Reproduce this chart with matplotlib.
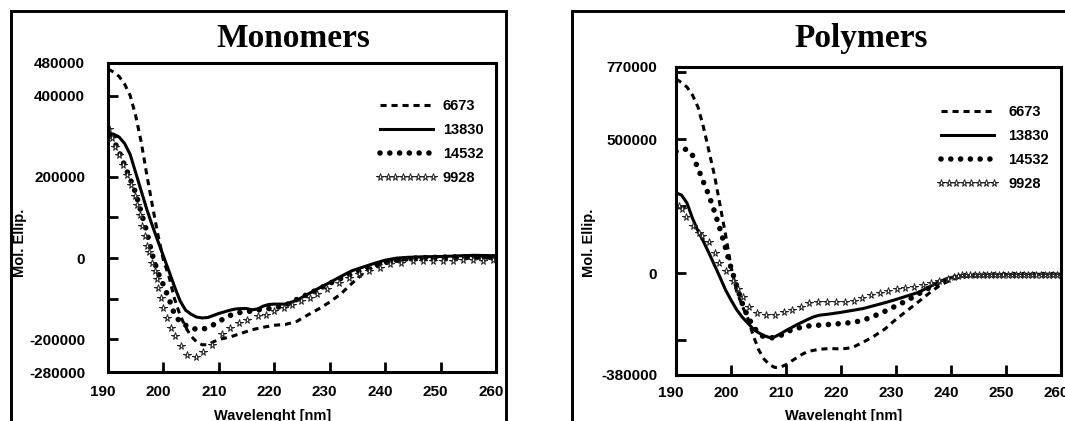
import matplotlib
matplotlib.use('Agg')
from matplotlib import pyplot as plt
from matplotlib.patches import Rectangle
from matplotlib.transforms import ScaledTranslation

W, H = 1065, 421

# ---- Monomers ----
m6673_wl = [190, 191, 192, 193, 194, 195, 196, 197, 198, 199, 200, 201, 202, 203, 204, 205, 206, 207, 208, 209, 210,
            212, 214, 216, 218, 220, 222, 224, 226, 228, 230, 232, 234, 236, 238, 240, 242, 245, 250, 255, 260]
m6673 = [465000, 458000, 447000, 428000, 400000, 350000, 285000, 205000, 130000, 58000, -5000, -45000, -100000,
         -140000, -170000, -192000, -206000, -213000, -213000, -206000, -200000,
         -194000, -185000, -176000, -170000, -165000, -163000, -156000, -140000, -125000, -108000, -88000, -62000,
         -38000, -20000, -11000, -6000, -3000, -1000, 0, 0]

m13830_wl = [190, 191, 192, 193, 194, 195, 196, 197, 198, 199, 200, 201, 202, 203, 204, 205, 206, 207, 208, 209, 210,
             211, 212, 213, 214, 215, 216, 217, 218, 219, 220,
             222, 224, 226, 228, 230, 232, 234, 236, 238, 240, 242, 244, 247, 250, 253, 256, 260]
m13830 = [307000, 305000, 298000, 282000, 255000, 210000, 165000, 120000, 80000, 42000, 5000, -32000, -70000,
          -105000, -128000, -138000, -145000, -147000, -146000, -141000, -136000,
          -132000, -128000, -125000, -124000, -124000, -127000, -125000, -118000, -114000, -113000,
          -113000, -104000, -89000, -74000, -60000, -45000, -31000, -22000, -13000, -5000, 0,
          2000, 3500, 4000, 5500, 7000, 6000]

m14532_wl = [190, 191, 192, 193, 194, 195, 196, 197, 198, 199, 200, 201, 202, 203, 204, 205, 206, 207, 208, 209, 210,
             211, 212, 213, 214, 216, 218, 220, 222, 224, 226, 228, 230, 232, 234, 236, 238, 240, 242,
             245, 250, 255, 260]
m14532 = [322000, 290000, 262000, 228000, 195000, 160000, 112000, 65000, 8000, -35000, -66000, -100000, -138000,
          -157000, -165000, -172000, -175000, -175000, -171000, -164000, -156000, -148000, -141000, -136000, -133000,
          -130000, -125000, -123000, -116000, -102000, -89000, -76000, -62000, -50000, -39000, -28000, -18000,
          -11000, -5000, 0, 2500, 3500, 3000]

m9928_wl = [190.2, 190.7, 191.3, 191.9, 192.7, 193.5, 194.1, 194.9, 195.3, 195.7, 196.2, 196.7, 197.1, 197.4, 197.9,
            198.4, 198.8, 199.1, 199.6, 200.0, 200.6, 201.4, 202.0, 203.1, 204.2, 205.9, 207.2, 208.7, 210.6, 212.1,
            213.6, 215.1, 217.0, 218.5, 220.0, 221.7, 223.2, 224.9, 226.4, 227.7, 229.5, 231.6, 233.5, 235.3, 237.1,
            239.0, 240.8, 242.9, 245.0, 246.9, 248.7, 250.5, 252.2, 254.0, 255.8, 257.6, 259.5]
m9928 = [318000, 295000, 274000, 253000, 229000, 204000, 179000, 154000, 130000, 105000, 80000, 55000, 31000, 14000,
         -11000, -31000, -52000, -73000, -97000, -122000, -147000, -172000, -192000, -217000, -238000, -242000,
         -230000, -213000, -186000, -172000, -159000, -151000, -143000, -139000, -130000, -122000, -116000, -106000,
         -97000, -89000, -77000, -60000, -48000, -40000, -31000, -23000, -15000, -11000, -8000, -7000, -6500, -6000,
         -5800, -5000, -5500, -5800, -4100]

# ---- Polymers ----
p6673_wl = [190, 191, 192, 193, 194, 195, 196, 197, 198, 199, 200, 201, 202, 203, 204, 205, 206, 207, 208, 209, 210,
            211, 212, 213, 214, 216, 218, 220, 222, 224, 226, 228, 230, 232, 234, 236, 238, 240, 242,
            244, 247, 250, 255, 260]
p6673 = [725000, 712000, 695000, 665000, 620000, 545000, 455000, 365000, 255000, 145000, 25000, -65000, -120000,
         -165000, -230000, -285000, -320000, -342000, -352000, -350000, -342000, -328000, -315000, -302000, -292000,
         -284000, -281000, -283000, -278000, -258000, -235000, -208000, -172000, -140000, -108000, -75000, -45000,
         -25000, -12000, -8000, -6000, -6000, -6000, -6000]

p13830_wl = [190, 191, 192, 193, 194, 195, 196, 197, 198, 199, 200, 201, 202, 203, 204, 205, 206, 207, 208, 209, 210,
             211, 212, 213, 214, 215, 216, 218, 220, 222, 224, 226, 228, 230, 232, 234, 236, 238, 240, 242,
             245, 250, 255, 260]
p13830 = [300000, 292000, 262000, 205000, 158000, 118000, 75000, 30000, -15000, -62000, -100000, -135000, -163000,
          -185000, -207000, -222000, -233000, -240000, -237000, -226000, -214000, -203000, -192000, -182000, -172000,
          -163000, -157000, -152000, -146000, -139000, -132000, -121000, -110000, -98000, -85000, -72000, -52000,
          -30000, -16000, -10000, -7000, -5000, -4000, -3500]

p14532_wl = [190, 191, 192, 193, 194, 195, 196, 197, 198, 199, 200, 201, 202, 203, 204, 205, 206, 207, 208, 209, 210,
             211, 212, 213, 214, 216, 218, 220, 222, 224, 226, 228, 230, 232, 234, 236, 238, 240, 242,
             245, 250, 255, 260]
p14532 = [455000, 462000, 463000, 440000, 392000, 340000, 290000, 230000, 165000, 95000, 20000, -45000, -110000,
          -160000, -197000, -225000, -238000, -242000, -240000, -233000, -220000, -212000, -206000, -200000, -197000,
          -194000, -191000, -188000, -184000, -176000, -160000, -142000, -122000, -102000, -78000, -55000, -35000,
          -18000, -10000, -7000, -5000, -5000, -5000]

p9928_wl = [190.5, 191.1, 191.8, 193.0, 194.1, 194.8, 196.0, 197.0, 197.9, 199.0, 200.3, 201.2, 202.1, 203.2, 204.8,
            206.3, 208.0, 209.6, 211.1, 212.7, 214.2, 215.9, 217.5, 219.0, 220.7, 222.3, 223.8, 225.5, 227.0, 228.6,
            230.1, 231.7, 233.3, 234.9, 236.4, 237.9, 239.4, 240.5, 241.3, 242.0, 242.8, 243.5, 244.3, 245.0, 245.8,
            246.5, 247.3, 248.0, 248.8, 249.5, 250.3, 251.0, 251.8, 252.5, 253.3, 254.0, 254.8, 255.5, 256.3, 257.0,
            257.8, 258.5, 259.3, 260.0]
p9928 = [250000, 240000, 210000, 177000, 150000, 140000, 115000, 77000, 40000, 9000, -28000, -59000, -88000, -125000,
         -147000, -156000, -156000, -143000, -138000, -125000, -110000, -107000, -107000, -107000, -107000, -103000,
         -93000, -81000, -72000, -66000, -59000, -56000, -51000, -43000, -35000, -28000, -22000, -15000, -10000,
         -8000, -7000, -7000, -6500, -6500, -6500, -6000, -6000, -6000, -6000, -6000, -5500, -5500, -5500, -5500,
         -5500, -5500, -5500, -5000, -5000, -5000, -5000, -5000, -5000, -5000]

series_names = ['6673', '13830', '14532', '9928']
x_ticks = [190, 200, 210, 220, 230, 240, 250, 260]
mono_yticks = [-280000, -200000, -100000, 0, 100000, 200000, 300000, 400000, 480000]
mono_ylabels = ['-280000', '-200000', '', '0', '', '200000', '', '400000', '480000']
poly_yticks = [-380000, -250000, 0, 250000, 500000, 750000, 770000]
poly_ylabels = ['-380000', '', '0', '', '500000', '', '770000']

styles = {
    '6673': dict(color='black', lw=2.2, ls=(0, (2, 1.6))),
    '13830': dict(color='black', lw=2.2, ls='-'),
    '14532': dict(color='black', lw=4.0, ls=(0, (0.01, 1.75)), dash_capstyle='round'),
    '9928': dict(ls='none', marker='*', ms=5.3, mfc='white', mec='#222222', mew=0.7),
}

plt.rcParams['font.family'] = ['Liberation Sans', 'DejaVu Sans']
plt.rcParams['font.weight'] = 'bold'
plt.rcParams['axes.labelweight'] = 'bold'

fig = plt.figure(figsize=(W / 100, H / 100), dpi=100)


def fx(px):
    return px / W


def fy(py):
    return 1 - py / H


def panel(box, data, yticks, ylabels, title, title_x, ypad, xpad, ylab_x, xlab_x, leg_xy, textpad):
    x0, y0, x1, y1 = box
    ax = fig.add_axes([fx(x0), fy(y1), (x1 - x0) / W, (y1 - y0) / H])
    for name in series_names:
        wl, val = data[name]
        ax.plot(wl, val, label=name, **styles[name])
    ax.set_xlim(190, 260)
    ax.set_ylim(yticks[0], yticks[-1])
    ax.set_xticks(x_ticks)
    ax.set_yticks(yticks)
    ax.set_yticklabels(ylabels)
    for s in ax.spines.values():
        s.set_linewidth(2.2)
    ax.tick_params(direction='in', length=7.5, width=2.0, labelsize=11)
    ax.tick_params(axis='y', pad=ypad)
    ax.tick_params(axis='x', pad=xpad)
    shift = ScaledTranslation(-5 / 100, 0, fig.dpi_scale_trans)
    for lbl in ax.get_xticklabels():
        lbl.set_transform(lbl.get_transform() + shift)

    ax.set_ylabel('Mol. Ellip.', fontsize=10.5, fontweight='bold', va='center')
    ax.yaxis.set_label_coords(fx(ylab_x), fy(243), transform=fig.transFigure)
    ax.set_xlabel('Wavelenght [nm]', fontsize=10.5, fontweight='bold', va='center')
    ax.xaxis.set_label_coords(fx(xlab_x), fy(416), transform=fig.transFigure)

    fig.text(fx(title_x), fy(47), title, ha='center', va='baseline',
             family='Liberation Serif', weight='bold', size=24)

    ax.legend(loc='upper left', bbox_to_anchor=(fx(leg_xy[0]), fy(leg_xy[1])),
              bbox_transform=fig.transFigure, frameon=False, borderpad=0, borderaxespad=0,
              handlelength=4.2, handletextpad=textpad, labelspacing=0.68, numpoints=8,
              prop=dict(family='Liberation Sans', weight='bold', size=10.5))
    return ax


mono = {'6673': (m6673_wl, m6673), '13830': (m13830_wl, m13830),
        '14532': (m14532_wl, m14532), '9928': (m9928_wl, m9928)}
poly = {'6673': (p6673_wl, p6673), '13830': (p13830_wl, p13830),
        '14532': (p14532_wl, p14532), '9928': (p9928_wl, p9928)}

panel((108, 63, 496, 372), mono, mono_yticks, mono_ylabels, 'Monomers', 293,
      16.5, 9.4, 20, 273, (376, 99), 0.37)
panel((676, 67, 1061, 375), poly, poly_yticks, poly_ylabels, 'Polymers', 861,
      13.5, 8.0, 589, 844, (937, 105), 0.68)

# outer frames around each panel
fig.add_artist(Rectangle((fx(11), fy(450)), (506 - 11) / W, (450 - 11) / H, transform=fig.transFigure,
                         fill=False, lw=2.1, ec='black', clip_on=False))
fig.add_artist(Rectangle((fx(572), fy(450)), (1100 - 572) / W, (450 - 11) / H, transform=fig.transFigure,
                         fill=False, lw=2.1, ec='black', clip_on=False))

fig.savefig('out.png', dpi=100, facecolor='white')
